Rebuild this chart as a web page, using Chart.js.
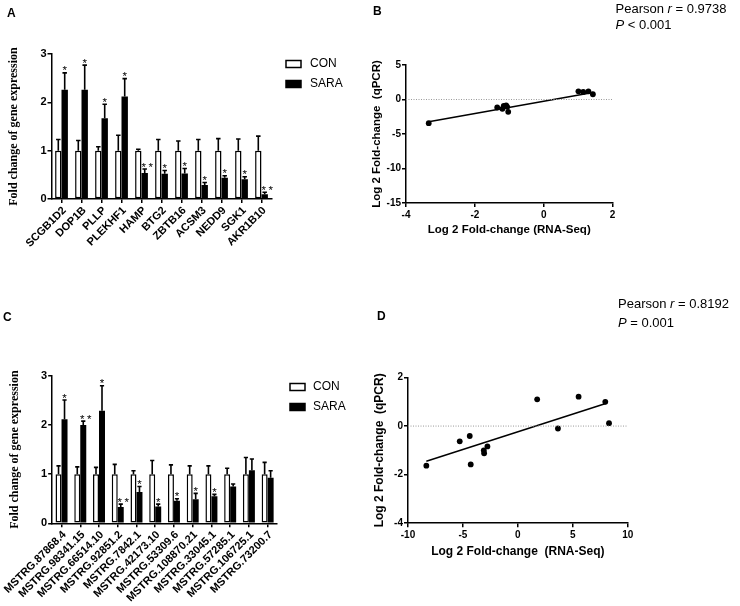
<!DOCTYPE html>
<html>
<head>
<meta charset="utf-8">
<script src="https://cdn.jsdelivr.net/npm/chart.js@4.4.1/dist/chart.umd.min.js"></script>
<style>
body { margin: 0; background: #fff; width: 740px; height: 606px; position: relative; overflow: hidden; font-family: "Liberation Sans", Arial, sans-serif; }
canvas { position: absolute; }
.lbl { position: absolute; line-height: 1; white-space: nowrap; color: #000; }
.pl { font-weight: bold; font-size: 12px; }
.ps { font-size: 13px; }
</style>
</head>
<body>
<canvas id="cA" width="370" height="290" style="left:0;top:0"></canvas>
<canvas id="cB" width="370" height="250" style="left:370px;top:0"></canvas>
<canvas id="cC" width="370" height="306" style="left:0;top:300px"></canvas>
<canvas id="cD" width="370" height="316" style="left:370px;top:290px"></canvas>

<div class="lbl pl" style="left:7px;top:6.5px">A</div>
<div class="lbl pl" style="left:373px;top:5px">B</div>
<div class="lbl pl" style="left:3px;top:310.5px">C</div>
<div class="lbl pl" style="left:377px;top:310px">D</div>
<div class="lbl ps" style="left:615.5px;top:2.3px">Pearson <i>r</i> = 0.9738</div>
<div class="lbl ps" style="left:615.5px;top:18.3px"><i>P</i> &lt; 0.001</div>
<div class="lbl ps" style="left:618px;top:297.3px">Pearson <i>r</i> = 0.8192</div>
<div class="lbl ps" style="left:618px;top:315.7px"><i>P</i> = 0.001</div>

<script>
// ---- panel A: mRNA qPCR ----
const genesA = ['SCGB1D2', 'DOP1B', 'PLLP', 'PLEKHF1', 'HAMP', 'BTG2', 'ZBTB16', 'ACSM3', 'NEDD9', 'SGK1', 'AKR1B10'];
const conA = [1, 1, 1, 1, 1, 1, 1, 1, 1, 1, 1];
const conErrA = [1.23, 1.21, 1.08, 1.32, 1.03, 1.23, 1.2, 1.23, 1.25, 1.24, 1.3];
const saraA = [2.26, 2.26, 1.67, 2.12, 0.54, 0.52, 0.53, 0.29, 0.44, 0.41, 0.1];
const saraErrA = [2.61, 2.77, 1.96, 2.49, 0.62, 0.59, 0.63, 0.34, 0.48, 0.46, 0.14];
const starsA = ['*', '*', '*', '*', '**', '*', '*', '*', '*', '*', '**'];

// ---- panel C: lncRNA qPCR ----
const genesC = ['MSTRG.87868.4', 'MSTRG.98341.15', 'MSTRG.66514.10', 'MSTRG.92851.2', 'MSTRG.7842.1', 'MSTRG.42173.10',
  'MSTRG.53309.6', 'MSTRG.108870.21', 'MSTRG.33045.1', 'MSTRG.57285.1', 'MSTRG.106725.1', 'MSTRG.73200.7'];
const conC = [1, 1, 1, 1, 1, 1, 1, 1, 1, 1, 1, 1];
const conErrC = [1.17, 1.15, 1.14, 1.2, 1.07, 1.28, 1.19, 1.17, 1.17, 1.12, 1.34, 1.24];
const saraC = [2.12, 2.0, 2.29, 0.33, 0.64, 0.34, 0.46, 0.49, 0.55, 0.75, 1.08, 0.93];
const saraErrC = [2.51, 2.08, 2.8, 0.39, 0.75, 0.39, 0.5, 0.61, 0.59, 0.8, 1.31, 1.07];
const starsC = ['*', '**', '*', '**', '*', '*', '*', '*', '*', '', '', ''];

// ---- panel B: RNA-Seq vs qPCR (mRNA) ----
const seqB = [-3.34, -1.35, -1.2, -1.16, -1.09, -1.06, -1.03, 1.01, 1.15, 1.3, 1.43];
const qpcrB = [-3.43, -1.16, -1.35, -0.92, -0.87, -1.06, -1.79, 1.19, 1.1, 1.18, 0.76];
const fitXB = [-3.34, 1.43];
const fitYB = [-3.22, 1.0];
const xTicksB = [-4, 2];
const yTicksB = [-15, 5];

// ---- panel D: RNA-Seq vs qPCR (lncRNA) ----
const seqD = [-8.33, -5.29, -4.38, -4.29, -3.1, -3.07, -2.77, 1.76, 3.65, 5.53, 7.96, 8.3];
const qpcrD = [-1.63, -0.63, -0.41, -1.58, -1.0, -1.12, -0.84, 1.1, -0.1, 1.21, 1.0, 0.12];
const fitXD = [-8.33, 8.0];
const fitYD = [-1.45, 0.93];
const xTicksD = [-10, 10];
const yTicksD = [-4, 2];

const FONT = '"Liberation Sans", Arial, sans-serif';
const SERIF = '"Liberation Serif", "Times New Roman", serif';

// error bars + significance stars on top of bars
const errorBars = {
  id: 'errorBars',
  afterDatasetsDraw(chart, args, opts) {
    const ctx = chart.ctx;
    const y = chart.scales.y;
    chart.data.datasets.forEach((ds, di) => {
      const meta = chart.getDatasetMeta(di);
      meta.data.forEach((bar, i) => {
        const top = y.getPixelForValue(ds.data[i]);
        const eTop = y.getPixelForValue(opts.errors[di][i]);
        const cap = bar.width * 0.35;
        ctx.save();
        ctx.strokeStyle = '#000';
        ctx.lineWidth = 1.6;
        ctx.beginPath();
        ctx.moveTo(bar.x, top);
        ctx.lineTo(bar.x, eTop);
        ctx.moveTo(bar.x - cap, eTop);
        ctx.lineTo(bar.x + cap, eTop);
        ctx.stroke();
        const s = opts.stars[di] ? opts.stars[di][i] : '';
        if (s) {
          ctx.fillStyle = '#000';
          ctx.font = '11.5px ' + FONT;
          ctx.textAlign = 'center';
          ctx.textBaseline = 'alphabetic';
          for (let k = 0; k < s.length; k++) {
            const off = s.length > 1 ? -1 + k * 7 : 0;
            ctx.fillText('*', bar.x + off, eTop + 1.5);
          }
        }
        ctx.restore();
      });
    });
  }
};

// GraphPad-like legend: small box + label
const boxLegend = {
  id: 'boxLegend',
  afterDraw(chart, args, opts) {
    const ctx = chart.ctx;
    ctx.save();
    chart.data.datasets.forEach((ds, i) => {
      const y = opts.y[i];
      ctx.fillStyle = ds.backgroundColor;
      ctx.fillRect(opts.x, y - 3.5, 15, 7);
      ctx.strokeStyle = '#000';
      ctx.lineWidth = 1.5;
      ctx.strokeRect(opts.x, y - 3.5, 15, 7);
      ctx.fillStyle = '#000';
      ctx.font = '12px ' + FONT;
      ctx.textAlign = 'left';
      ctx.textBaseline = 'middle';
      ctx.fillText(ds.label, opts.textX, y);
    });
    ctx.restore();
  }
};

function axisStyle() {
  return {
    border: { display: true, color: '#000', width: 1.5 },
    grid: { display: true, drawOnChartArea: false, drawTicks: true, tickLength: 4, color: '#000', lineWidth: 1.5, offset: false }
  };
}

function barChart(id, labels, con, sara, conErr, saraErr, stars, box) {
  return new Chart(document.getElementById(id), {
    type: 'bar',
    data: {
      labels: labels,
      datasets: [
        { label: 'CON', data: con, backgroundColor: '#fff', borderColor: '#000', borderWidth: 1.5, borderSkipped: false },
        { label: 'SARA', data: sara, backgroundColor: '#000', borderColor: '#000', borderWidth: 0 }
      ]
    },
    options: {
      responsive: false,
      animation: false,
      layout: { padding: box.pad },
      datasets: { bar: { categoryPercentage: 0.64, barPercentage: 1.0 } },
      plugins: {
        legend: { display: false },
        tooltip: { enabled: false },
        errorBars: { errors: [conErr, saraErr], stars: [null, stars] },
        boxLegend: box.legend
      },
      scales: {
        x: {
          ...axisStyle(),
          ticks: { color: '#000', autoSkip: false, minRotation: 45, maxRotation: 45, padding: 1, labelOffset: 3,
            font: { family: FONT, size: 11, weight: 'bold' } },
          afterFit: s => { s.height = box.xh; }
        },
        y: {
          ...axisStyle(),
          min: 0, max: 3,
          ticks: { stepSize: 1, color: '#000', padding: 1, font: { family: FONT, size: 11, weight: 'bold' } },
          title: { display: true, text: 'Fold change of gene expression', color: '#000',
            padding: { top: box.tp, bottom: 0 }, font: { family: SERIF, size: 12, weight: 'bold' } },
          afterFit: s => { s.width = box.yw; }
        }
      }
    },
    plugins: [errorBars, boxLegend]
  });
}

function pts(xs, ys) { return xs.map((x, i) => ({ x: x, y: ys[i] })); }

function scatterChart(id, xs, ys, fx, fy, xr, yr, step, xTitle, yTitle, box) {
  return new Chart(document.getElementById(id), {
    type: 'scatter',
    data: {
      datasets: [
        { data: pts(xr, [0, 0]), showLine: true, pointRadius: 0, borderColor: '#9a9a9a', borderWidth: 1, borderDash: [1, 1.5] },
        { data: pts(fx, fy), showLine: true, pointRadius: 0, borderColor: '#000', borderWidth: 1.5 },
        { data: pts(xs, ys), pointRadius: 2.9, pointBackgroundColor: '#000', pointBorderColor: '#000', pointBorderWidth: 0 }
      ]
    },
    options: {
      responsive: false,
      animation: false,
      layout: { padding: box.pad },
      plugins: { legend: { display: false }, tooltip: { enabled: false } },
      scales: {
        x: {
          ...axisStyle(),
          min: xr[0], max: xr[1],
          ticks: { stepSize: step[0], color: '#000', padding: 2, font: { family: FONT, size: 10, weight: 'bold' } },
          title: { display: true, text: xTitle, color: '#000', padding: { top: 0, bottom: box.pb },
            font: { family: FONT, size: box.ts, weight: 'bold' } },
          afterFit: s => { s.height = box.xh; }
        },
        y: {
          ...axisStyle(),
          min: yr[0], max: yr[1],
          ticks: { stepSize: step[1], color: '#000', padding: 1, font: { family: FONT, size: 10, weight: 'bold' } },
          title: { display: true, text: yTitle, color: '#000', padding: { top: box.tp, bottom: 0 },
            font: { family: FONT, size: box.ts, weight: 'bold' } },
          afterFit: s => { s.width = box.yw; }
        }
      }
    }
  });
}

barChart('cA', genesA, conA, saraA, conErrA, saraErrA, starsA, {
  pad: { left: 0, top: 54, right: 98.5, bottom: 0 }, xh: 91, yw: 51.5, tp: 6.3,
  legend: { x: 286, textX: 310, y: [64, 84] }
});

barChart('cC', genesC, conC, saraC, conErrC, saraErrC, starsC, {
  pad: { left: 0, top: 76, right: 93, bottom: 0 }, xh: 82.7, yw: 52, tp: 7.8,
  legend: { x: 290, textX: 313, y: [87, 107] }
});

scatterChart('cB', seqB, qpcrB, fitXB, fitYB, xTicksB, yTicksB, [2, 5],
  'Log 2 Fold-change (RNA-Seq)', 'Log 2 Fold-change  (qPCR)', {
  pad: { left: 0, top: 65, right: 127.5, bottom: 0 }, xh: 47, yw: 36, tp: 0.2, pb: 13, ts: 11.5
});

scatterChart('cD', seqD, qpcrD, fitXD, fitYD, xTicksD, yTicksD, [5, 2],
  'Log 2 Fold-change  (RNA-Seq)', 'Log 2 Fold-change  (qPCR)', {
  pad: { left: 0, top: 87.5, right: 112.3, bottom: 0 }, xh: 82.8, yw: 38, tp: 2.8, pb: 46.8, ts: 12
});
</script>
</body>
</html>
